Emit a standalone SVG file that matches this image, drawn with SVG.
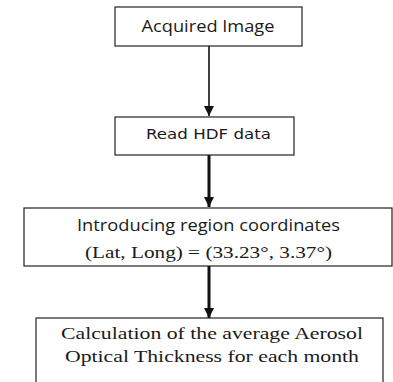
<svg xmlns="http://www.w3.org/2000/svg" width="393" height="382" viewBox="0 0 393 382">
  <style>
    .box { fill: #ffffff; stroke: #222222; stroke-width: 1.2; }
    .sans { font-family: "Open Sans", "Liberation Sans", sans-serif; font-size: 17px; fill: #1a1a1a; }
    .dv { font-family: "DejaVu Sans", Verdana, sans-serif; font-size: 14px; fill: #1a1a1a; }
    .serif { font-family: "Liberation Serif", "Times New Roman", serif; font-size: 17px; fill: #1a1a1a; }
    .conn { stroke: #111111; fill: none; }
  </style>
  <defs>
    <marker id="ah" viewBox="0 0 10 10" refX="10" refY="5" markerWidth="10" markerHeight="10" markerUnits="userSpaceOnUse" orient="auto">
      <path d="M0,0 L10,5 L0,10 Z" fill="#111111"/>
    </marker>
  </defs>
  <rect width="393" height="382" fill="#ffffff"/>
  <g id="connectors">
    <line class="conn" x1="209" y1="46" x2="209" y2="116" stroke-width="1.6" marker-end="url(#ah)"/>
    <line class="conn" x1="209" y1="155" x2="209" y2="207" stroke-width="3" marker-end="url(#ah)"/>
    <line class="conn" x1="209" y1="266" x2="209" y2="318" stroke-width="3" marker-end="url(#ah)"/>
  </g>
  <g id="node-acquired">
    <rect class="box" x="115" y="7" width="187" height="39"/>
    <text class="sans" x="208" y="32" text-anchor="middle" textLength="133" lengthAdjust="spacingAndGlyphs">Acquired Image</text>
  </g>
  <g id="node-read">
    <rect class="box" x="115" y="117" width="179" height="38"/>
    <text class="dv" x="208.5" y="139" text-anchor="middle" textLength="125" lengthAdjust="spacingAndGlyphs">Read HDF data</text>
  </g>
  <g id="node-region">
    <rect class="box" x="24" y="208" width="368" height="58"/>
    <text class="sans" x="208.5" y="231" text-anchor="middle" textLength="263" lengthAdjust="spacingAndGlyphs">Introducing region coordinates</text>
    <text class="serif" x="208.5" y="258" text-anchor="middle" textLength="247" lengthAdjust="spacingAndGlyphs">(Lat, Long) = (33.23°, 3.37°)</text>
  </g>
  <g id="node-calc">
    <rect class="box" x="36" y="318" width="347" height="80"/>
    <text class="serif" x="212" y="339" text-anchor="middle" textLength="302" lengthAdjust="spacingAndGlyphs">Calculation of the average Aerosol</text>
    <text class="serif" x="212" y="362" text-anchor="middle" textLength="294" lengthAdjust="spacingAndGlyphs">Optical Thickness for each month</text>
  </g>
</svg>
